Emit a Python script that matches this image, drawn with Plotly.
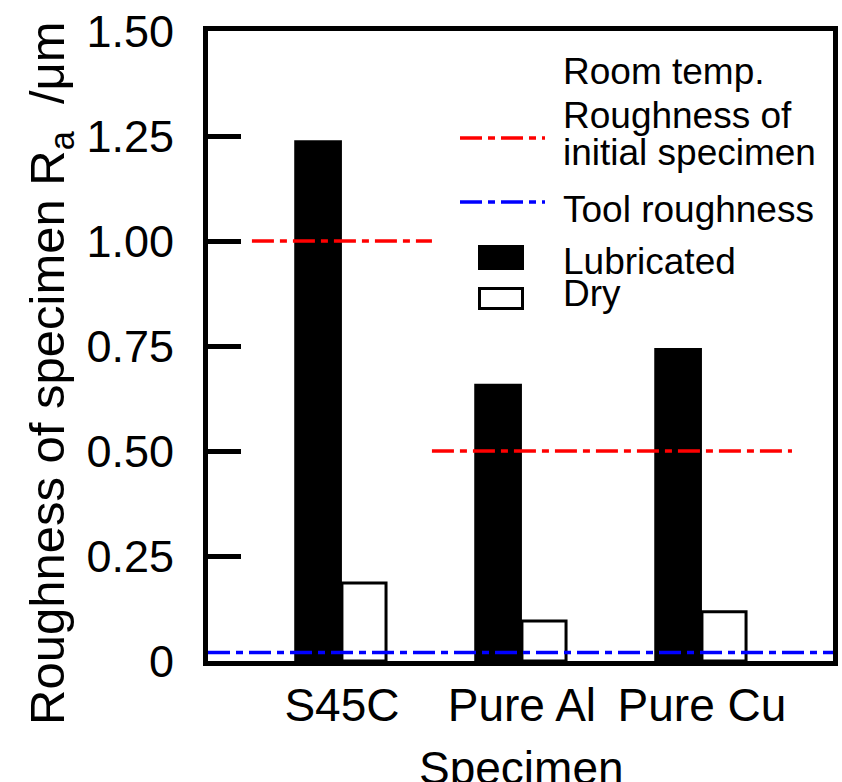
import plotly.graph_objects as go

# ---------------- data ----------------
specimens = ["S45C", "Pure Al", "Pure Cu"]
lubricated = [1.24, 0.66, 0.745]
dry = [0.186, 0.095, 0.117]
initial_roughness = [1.00, 0.50, 0.50]
tool_roughness = 0.02
y_tickvals = [0, 0.25, 0.50, 0.75, 1.00, 1.25, 1.50]
y_ticktext = ["0", "0.25", "0.50", "0.75", "1.00", "1.25", "1.50"]
legend_header = "Room temp."
legend_initial = ["Roughness of", "initial specimen"]
legend_tool = "Tool roughness"
legend_lub = "Lubricated"
legend_dry = "Dry"
x_title = "Specimen"
y_title = "Roughness of specimen R<sub>a</sub>\u00a0\u00a0/\u03bcm"

# ---------------- geometry ----------------
W, H = 842, 782
L, R, T, B = 208, 833, 31, 661
FONT = "Liberation Sans, Arial, sans-serif"
RED = "#ff0000"
BLUE = "#0000ff"
DASH = "22px,6px,7px,6px"

xpos = list(range(len(specimens)))
x_range = [-0.744, 2.728]


def px(xp):
    return (xp - L) / (R - L)


def py(yp):
    return (B - yp) / (B - T)


fig = go.Figure()

fig.add_trace(go.Bar(
    x=xpos, y=lubricated, width=0.265, offset=-0.265,
    marker=dict(color="black", line=dict(width=0)), name=legend_lub,
))
fig.add_trace(go.Bar(
    x=xpos, y=dry, width=0.245, offset=0.0,
    marker=dict(color="white", line=dict(color="black", width=3)), name=legend_dry,
))

# initial roughness: one step segment per run of equal values
seg_x, seg_y = [], []
n = len(initial_roughness)
i = 0
while i < n:
    j = i
    while j + 1 < n and initial_roughness[j + 1] == initial_roughness[i]:
        j += 1
    seg_x += [xpos[i] - 0.5, xpos[j] + 0.5, None]
    seg_y += [initial_roughness[i], initial_roughness[i], None]
    i = j + 1

fig.add_trace(go.Scatter(
    x=seg_x, y=seg_y, mode="lines",
    line=dict(color=RED, width=3.5, dash=DASH), name="initial",
))
fig.add_trace(go.Scatter(
    x=x_range, y=[tool_roughness, tool_roughness], mode="lines",
    line=dict(color=BLUE, width=3.5, dash=DASH), name=legend_tool,
))

# ---------------- manual legend ----------------
shapes = [
    dict(type="line", xref="paper", yref="paper",
         x0=px(460), x1=px(545), y0=py(138), y1=py(138),
         line=dict(color=RED, width=3.5, dash=DASH)),
    dict(type="line", xref="paper", yref="paper",
         x0=px(460), x1=px(545), y0=py(202), y1=py(202),
         line=dict(color=BLUE, width=3.5, dash=DASH)),
    dict(type="rect", xref="paper", yref="paper",
         x0=px(478), x1=px(524), y0=py(270), y1=py(245),
         fillcolor="black", line=dict(width=0)),
    dict(type="rect", xref="paper", yref="paper",
         x0=px(479.5), x1=px(522.5), y0=py(308.5), y1=py(288.5),
         fillcolor="white", line=dict(color="black", width=3)),
]

LEG_FS = 37
annotations = []
for text, yc in [(legend_header, 71), (legend_initial[0], 116), (legend_initial[1], 152),
                 (legend_tool, 209), (legend_lub, 261), (legend_dry, 293)]:
    annotations.append(dict(
        text=text, xref="paper", yref="paper", x=px(561), y=py(yc),
        xanchor="left", yanchor="middle", showarrow=False,
        font=dict(family=FONT, size=LEG_FS, color="black"),
    ))

# axis titles
annotations.append(dict(
    text=y_title, xref="paper", yref="paper", x=px(50), y=py(373),
    xanchor="center", yanchor="middle", textangle=-90, showarrow=False,
    font=dict(family=FONT, size=49, color="black"),
))
annotations.append(dict(
    text=x_title, xref="paper", yref="paper", x=px(521), y=py(768),
    xanchor="center", yanchor="middle", showarrow=False,
    font=dict(family=FONT, size=46, color="black"),
))

fig.update_layout(
    width=W, height=H,
    margin=dict(l=L, r=W - R, t=T, b=H - B, pad=0),
    paper_bgcolor="white", plot_bgcolor="white",
    showlegend=False,
    font=dict(family=FONT, color="black"),
    shapes=shapes, annotations=annotations,
    xaxis=dict(
        range=x_range, tickmode="array", tickvals=xpos, ticktext=specimens,
        ticks="", showgrid=False, zeroline=False, automargin=False,
        showline=True, linewidth=5, linecolor="black", mirror=True,
        tickfont=dict(family=FONT, size=46, color="black"),
        ticklabelstandoff=0,
    ),
    yaxis=dict(
        range=[0, 1.5], tickmode="array", tickvals=y_tickvals, ticktext=y_ticktext,
        ticks="inside", ticklen=33, tickwidth=5, tickcolor="black",
        showgrid=False, zeroline=False, automargin=False,
        showline=True, linewidth=5, linecolor="black", mirror=True,
        tickfont=dict(family=FONT, size=45, color="black"),
        ticklabelstandoff=20,
    ),
)

fig.write_html("out.html")
